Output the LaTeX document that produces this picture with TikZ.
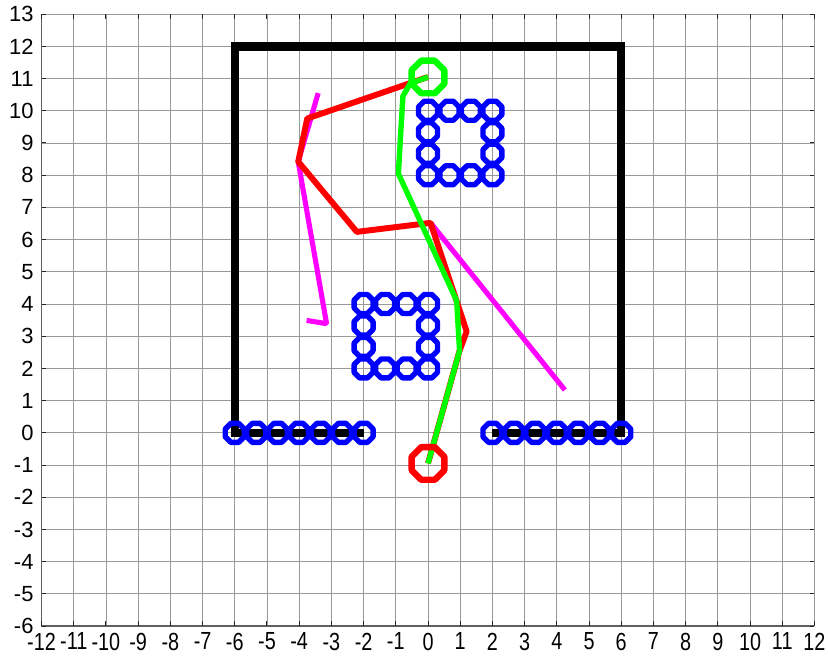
\documentclass[tikz,border=0pt]{standalone}
\usepackage{fontspec}
\setmainfont{Liberation Sans}
\usetikzlibrary{shapes.geometric}
\definecolor{pathmag}{RGB}{255,0,255}
\definecolor{pathgreen}{RGB}{0,255,0}

\begin{document}
\begin{tikzpicture}[x=0.8cm, y=0.8cm,
  gridline/.style={gray!80, line width=0.6pt},
  axisline/.style={gray!75!black, line width=1.1pt},
  tickmark/.style={black!85, line width=0.7pt},
  xlab/.style={anchor=north, inner sep=0pt, yshift=-4.5pt,
               font=\fontsize{14}{15}\selectfont},
  ylab/.style={anchor=east, inner sep=0pt, xshift=-5.5pt,
               font=\fontsize{15.5}{16}\selectfont},
  wall/.style={black, line width=6pt},
  obst/.style={regular polygon, regular polygon sides=8, draw=blue,
               line width=3.8pt, line join=round, minimum size=14.5pt, inner sep=0pt},
  tree/.style={pathmag, line width=3.6pt, line join=bevel},
  route/.style={red, line width=4.2pt, line join=bevel},
  smooth/.style={pathgreen, line width=3.8pt, line join=round},
  marker/.style={regular polygon, regular polygon sides=8, line width=4.5pt,
                 line join=round, minimum size=25pt, inner sep=0pt},
]
  \useasboundingbox (-13.29,-6.94) rectangle (12.42,13.44);

  % --- Grid and axes ---
  \foreach \x in {-11,...,12}
    \draw[gridline] (\x,-6) -- (\x,13);
  \foreach \y in {-5,...,13}
    \draw[gridline] (-12,\y) -- (12,\y);
  \draw[axisline] (-12,13) -- (-12,-6) -- (12,-6);

  \foreach \x in {-12,...,12} {
    \draw[tickmark] (\x,-6) -- (\x,-5.85);
    \draw[tickmark] (\x,13) -- (\x,12.85);
    \node[xlab] (xl\x) at (\x,-6) {\scalebox{1}[1.25]{\x}};
  }
  \foreach \y in {-6,...,13} {
    \draw[tickmark] (-12,\y) -- (-11.85,\y);
    \draw[tickmark] (12,\y) -- (11.85,\y);
    \node[ylab] (yl\y) at (-12,\y) {\y};
  }

  % --- Walls ---
  \draw[wall] (-2,0) -- (-6,0) -- (-6,12) -- (6,12) -- (6,0) -- (2,0);

  % --- Obstacles ---
  \foreach \i in {0,...,6} {
    \node[obst] (wl\i) at ({-6+\i*2/3},0) {};
    \node[obst] (wr\i) at ({2+\i*2/3},0) {};
  }
  \foreach \i in {0,...,3} {
    \foreach \j in {0,...,3} {
      \ifnum\numexpr\i*(3-\i)*\j*(3-\j)\relax=0
        \node[obst] (sa\i\j) at ({\i*2/3},{8+\j*2/3}) {};
        \node[obst] (sb\i\j) at ({-2+\i*2/3},{2+\j*2/3}) {};
      \fi
    }
  }

  % --- Start and goal ---
  \coordinate (s) at (0,-0.95);
  \coordinate (g) at (0,11.05);

  % --- Tree branches ---
  \coordinate (m1) at (-3.41,10.55);
  \coordinate (m2) at (-4.03,8.42);
  \coordinate (m3) at (-3.15,3.39);
  \coordinate (m4) at (-3.77,3.49);
  \coordinate (m5) at (0.08,6.52);
  \coordinate (m6) at (4.25,1.33);
  \draw[tree] (m1) -- (m2) -- (m3) -- (m4);
  \draw[tree] (m5) -- (m6);

  % --- Raw path ---
  \coordinate (r1) at (-3.75,9.76);
  \coordinate (r2) at (-2.21,6.24);
  \coordinate (r3) at (1.2,3.15);
  \coordinate (r4) at (0.98,2.55);
  \draw[route] (g) -- (r1) -- (m2) -- (r2) -- (m5) -- (r3) -- (r4) -- (s);

  % --- Smoothed path ---
  \coordinate (p1) at (0.98,2.55);
  \coordinate (p2) at (0.89,4.1);
  \coordinate (p3) at (-0.92,8.05);
  \coordinate (p4) at (-0.78,10.45);
  \coordinate (p5) at (-0.56,10.84);
  \draw[smooth] (s) -- (p1) -- (p2) -- (p3) -- (p4) -- (p5) -- (g);

  \node[marker, draw=red] (start) at (s) {};
  \node[marker, draw=pathgreen] (goal) at (g) {};
\end{tikzpicture}
\end{document}
